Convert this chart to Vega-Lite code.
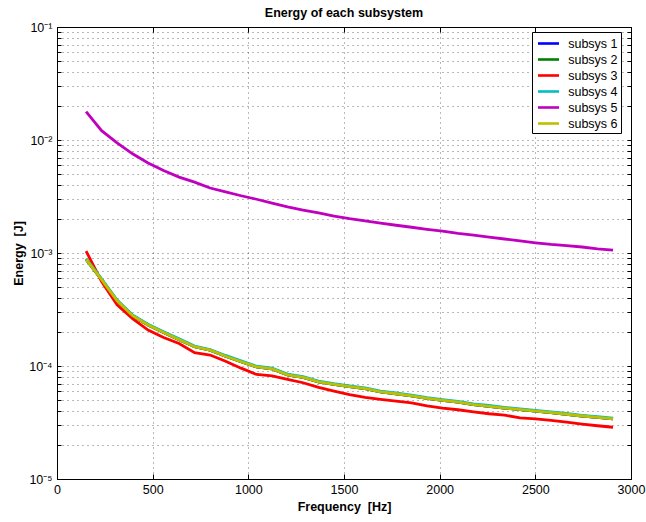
{
"$schema": "https://vega.github.io/schema/vega-lite/v6.json",
"width": 574, "height": 452,
"autosize": {"type": "none"},
"padding": {"left": 57, "top": 27, "right": 15, "bottom": 43},
"background": "white",
"title": {"text": "Energy of each subsystem", "font": "Liberation Sans", "fontSize": 12.5, "fontWeight": "bold", "color": "black", "offset": 2},
"data": {"values": [
{"f":152,"s":"subsys 1","E":8.79e-4},{"f":233,"s":"subsys 1","E":5.82e-4},{"f":314,"s":"subsys 1","E":3.77e-4},{"f":395,"s":"subsys 1","E":2.79e-4},{"f":476,"s":"subsys 1","E":2.31e-4},{"f":557,"s":"subsys 1","E":1.98e-4},{"f":638,"s":"subsys 1","E":1.71e-4},{"f":719,"s":"subsys 1","E":1.48e-4},{"f":800,"s":"subsys 1","E":1.38e-4},{"f":881,"s":"subsys 1","E":1.22e-4},{"f":962,"s":"subsys 1","E":1.09e-4},{"f":1043,"s":"subsys 1","E":9.8e-5},{"f":1124,"s":"subsys 1","E":9.42e-5},{"f":1205,"s":"subsys 1","E":8.34e-5},{"f":1286,"s":"subsys 1","E":7.94e-5},{"f":1367,"s":"subsys 1","E":7.24e-5},{"f":1448,"s":"subsys 1","E":6.87e-5},{"f":1529,"s":"subsys 1","E":6.56e-5},{"f":1610,"s":"subsys 1","E":6.30e-5},{"f":1691,"s":"subsys 1","E":5.91e-5},{"f":1772,"s":"subsys 1","E":5.68e-5},{"f":1853,"s":"subsys 1","E":5.43e-5},{"f":1934,"s":"subsys 1","E":5.17e-5},{"f":2015,"s":"subsys 1","E":4.97e-5},{"f":2096,"s":"subsys 1","E":4.78e-5},{"f":2177,"s":"subsys 1","E":4.55e-5},{"f":2258,"s":"subsys 1","E":4.40e-5},{"f":2339,"s":"subsys 1","E":4.24e-5},{"f":2420,"s":"subsys 1","E":4.11e-5},{"f":2501,"s":"subsys 1","E":3.98e-5},{"f":2582,"s":"subsys 1","E":3.86e-5},{"f":2663,"s":"subsys 1","E":3.74e-5},{"f":2744,"s":"subsys 1","E":3.61e-5},{"f":2825,"s":"subsys 1","E":3.51e-5},{"f":2906,"s":"subsys 1","E":3.40e-5},
{"f":152,"s":"subsys 2","E":8.79e-4},{"f":233,"s":"subsys 2","E":5.82e-4},{"f":314,"s":"subsys 2","E":3.77e-4},{"f":395,"s":"subsys 2","E":2.79e-4},{"f":476,"s":"subsys 2","E":2.31e-4},{"f":557,"s":"subsys 2","E":1.98e-4},{"f":638,"s":"subsys 2","E":1.71e-4},{"f":719,"s":"subsys 2","E":1.48e-4},{"f":800,"s":"subsys 2","E":1.38e-4},{"f":881,"s":"subsys 2","E":1.22e-4},{"f":962,"s":"subsys 2","E":1.09e-4},{"f":1043,"s":"subsys 2","E":9.8e-5},{"f":1124,"s":"subsys 2","E":9.42e-5},{"f":1205,"s":"subsys 2","E":8.34e-5},{"f":1286,"s":"subsys 2","E":7.94e-5},{"f":1367,"s":"subsys 2","E":7.24e-5},{"f":1448,"s":"subsys 2","E":6.87e-5},{"f":1529,"s":"subsys 2","E":6.56e-5},{"f":1610,"s":"subsys 2","E":6.30e-5},{"f":1691,"s":"subsys 2","E":5.91e-5},{"f":1772,"s":"subsys 2","E":5.68e-5},{"f":1853,"s":"subsys 2","E":5.43e-5},{"f":1934,"s":"subsys 2","E":5.17e-5},{"f":2015,"s":"subsys 2","E":4.97e-5},{"f":2096,"s":"subsys 2","E":4.78e-5},{"f":2177,"s":"subsys 2","E":4.55e-5},{"f":2258,"s":"subsys 2","E":4.40e-5},{"f":2339,"s":"subsys 2","E":4.24e-5},{"f":2420,"s":"subsys 2","E":4.11e-5},{"f":2501,"s":"subsys 2","E":3.98e-5},{"f":2582,"s":"subsys 2","E":3.86e-5},{"f":2663,"s":"subsys 2","E":3.74e-5},{"f":2744,"s":"subsys 2","E":3.61e-5},{"f":2825,"s":"subsys 2","E":3.51e-5},{"f":2906,"s":"subsys 2","E":3.40e-5},
{"f":152,"s":"subsys 3","E":1.04e-3},{"f":233,"s":"subsys 3","E":5.60e-4},{"f":314,"s":"subsys 3","E":3.48e-4},{"f":395,"s":"subsys 3","E":2.62e-4},{"f":476,"s":"subsys 3","E":2.08e-4},{"f":557,"s":"subsys 3","E":1.79e-4},{"f":638,"s":"subsys 3","E":1.58e-4},{"f":719,"s":"subsys 3","E":1.31e-4},{"f":800,"s":"subsys 3","E":1.25e-4},{"f":881,"s":"subsys 3","E":1.10e-4},{"f":962,"s":"subsys 3","E":9.57e-5},{"f":1043,"s":"subsys 3","E":8.41e-5},{"f":1124,"s":"subsys 3","E":8.17e-5},{"f":1205,"s":"subsys 3","E":7.60e-5},{"f":1286,"s":"subsys 3","E":7.11e-5},{"f":1367,"s":"subsys 3","E":6.47e-5},{"f":1448,"s":"subsys 3","E":6.00e-5},{"f":1529,"s":"subsys 3","E":5.58e-5},{"f":1610,"s":"subsys 3","E":5.27e-5},{"f":1691,"s":"subsys 3","E":5.07e-5},{"f":1772,"s":"subsys 3","E":4.89e-5},{"f":1853,"s":"subsys 3","E":4.72e-5},{"f":1934,"s":"subsys 3","E":4.43e-5},{"f":2015,"s":"subsys 3","E":4.23e-5},{"f":2096,"s":"subsys 3","E":4.10e-5},{"f":2177,"s":"subsys 3","E":3.93e-5},{"f":2258,"s":"subsys 3","E":3.78e-5},{"f":2339,"s":"subsys 3","E":3.67e-5},{"f":2420,"s":"subsys 3","E":3.48e-5},{"f":2501,"s":"subsys 3","E":3.41e-5},{"f":2582,"s":"subsys 3","E":3.30e-5},{"f":2663,"s":"subsys 3","E":3.18e-5},{"f":2744,"s":"subsys 3","E":3.06e-5},{"f":2825,"s":"subsys 3","E":2.96e-5},{"f":2906,"s":"subsys 3","E":2.87e-5},
{"f":152,"s":"subsys 4","E":8.92e-4},{"f":233,"s":"subsys 4","E":5.91e-4},{"f":314,"s":"subsys 4","E":3.83e-4},{"f":395,"s":"subsys 4","E":2.83e-4},{"f":476,"s":"subsys 4","E":2.34e-4},{"f":557,"s":"subsys 4","E":2.01e-4},{"f":638,"s":"subsys 4","E":1.74e-4},{"f":719,"s":"subsys 4","E":1.50e-4},{"f":800,"s":"subsys 4","E":1.40e-4},{"f":881,"s":"subsys 4","E":1.24e-4},{"f":962,"s":"subsys 4","E":1.11e-4},{"f":1043,"s":"subsys 4","E":9.95e-5},{"f":1124,"s":"subsys 4","E":9.56e-5},{"f":1205,"s":"subsys 4","E":8.47e-5},{"f":1286,"s":"subsys 4","E":8.06e-5},{"f":1367,"s":"subsys 4","E":7.35e-5},{"f":1448,"s":"subsys 4","E":6.97e-5},{"f":1529,"s":"subsys 4","E":6.66e-5},{"f":1610,"s":"subsys 4","E":6.39e-5},{"f":1691,"s":"subsys 4","E":6.00e-5},{"f":1772,"s":"subsys 4","E":5.77e-5},{"f":1853,"s":"subsys 4","E":5.51e-5},{"f":1934,"s":"subsys 4","E":5.25e-5},{"f":2015,"s":"subsys 4","E":5.04e-5},{"f":2096,"s":"subsys 4","E":4.85e-5},{"f":2177,"s":"subsys 4","E":4.62e-5},{"f":2258,"s":"subsys 4","E":4.47e-5},{"f":2339,"s":"subsys 4","E":4.30e-5},{"f":2420,"s":"subsys 4","E":4.17e-5},{"f":2501,"s":"subsys 4","E":4.04e-5},{"f":2582,"s":"subsys 4","E":3.92e-5},{"f":2663,"s":"subsys 4","E":3.80e-5},{"f":2744,"s":"subsys 4","E":3.66e-5},{"f":2825,"s":"subsys 4","E":3.56e-5},{"f":2906,"s":"subsys 4","E":3.45e-5},
{"f":152,"s":"subsys 5","E":1.78e-2},{"f":233,"s":"subsys 5","E":1.21e-2},{"f":314,"s":"subsys 5","E":9.42e-3},{"f":395,"s":"subsys 5","E":7.55e-3},{"f":476,"s":"subsys 5","E":6.25e-3},{"f":557,"s":"subsys 5","E":5.37e-3},{"f":638,"s":"subsys 5","E":4.69e-3},{"f":719,"s":"subsys 5","E":4.24e-3},{"f":800,"s":"subsys 5","E":3.76e-3},{"f":881,"s":"subsys 5","E":3.47e-3},{"f":962,"s":"subsys 5","E":3.21e-3},{"f":1043,"s":"subsys 5","E":2.99e-3},{"f":1124,"s":"subsys 5","E":2.76e-3},{"f":1205,"s":"subsys 5","E":2.56e-3},{"f":1286,"s":"subsys 5","E":2.40e-3},{"f":1367,"s":"subsys 5","E":2.26e-3},{"f":1448,"s":"subsys 5","E":2.12e-3},{"f":1529,"s":"subsys 5","E":2.01e-3},{"f":1610,"s":"subsys 5","E":1.92e-3},{"f":1691,"s":"subsys 5","E":1.84e-3},{"f":1772,"s":"subsys 5","E":1.76e-3},{"f":1853,"s":"subsys 5","E":1.69e-3},{"f":1934,"s":"subsys 5","E":1.62e-3},{"f":2015,"s":"subsys 5","E":1.56e-3},{"f":2096,"s":"subsys 5","E":1.49e-3},{"f":2177,"s":"subsys 5","E":1.44e-3},{"f":2258,"s":"subsys 5","E":1.38e-3},{"f":2339,"s":"subsys 5","E":1.33e-3},{"f":2420,"s":"subsys 5","E":1.28e-3},{"f":2501,"s":"subsys 5","E":1.23e-3},{"f":2582,"s":"subsys 5","E":1.19e-3},{"f":2663,"s":"subsys 5","E":1.16e-3},{"f":2744,"s":"subsys 5","E":1.13e-3},{"f":2825,"s":"subsys 5","E":1.09e-3},{"f":2906,"s":"subsys 5","E":1.06e-3},
{"f":152,"s":"subsys 6","E":8.79e-4},{"f":233,"s":"subsys 6","E":5.82e-4},{"f":314,"s":"subsys 6","E":3.77e-4},{"f":395,"s":"subsys 6","E":2.79e-4},{"f":476,"s":"subsys 6","E":2.31e-4},{"f":557,"s":"subsys 6","E":1.98e-4},{"f":638,"s":"subsys 6","E":1.71e-4},{"f":719,"s":"subsys 6","E":1.48e-4},{"f":800,"s":"subsys 6","E":1.38e-4},{"f":881,"s":"subsys 6","E":1.22e-4},{"f":962,"s":"subsys 6","E":1.09e-4},{"f":1043,"s":"subsys 6","E":9.8e-5},{"f":1124,"s":"subsys 6","E":9.42e-5},{"f":1205,"s":"subsys 6","E":8.34e-5},{"f":1286,"s":"subsys 6","E":7.94e-5},{"f":1367,"s":"subsys 6","E":7.24e-5},{"f":1448,"s":"subsys 6","E":6.87e-5},{"f":1529,"s":"subsys 6","E":6.56e-5},{"f":1610,"s":"subsys 6","E":6.30e-5},{"f":1691,"s":"subsys 6","E":5.91e-5},{"f":1772,"s":"subsys 6","E":5.68e-5},{"f":1853,"s":"subsys 6","E":5.43e-5},{"f":1934,"s":"subsys 6","E":5.17e-5},{"f":2015,"s":"subsys 6","E":4.97e-5},{"f":2096,"s":"subsys 6","E":4.78e-5},{"f":2177,"s":"subsys 6","E":4.55e-5},{"f":2258,"s":"subsys 6","E":4.40e-5},{"f":2339,"s":"subsys 6","E":4.24e-5},{"f":2420,"s":"subsys 6","E":4.11e-5},{"f":2501,"s":"subsys 6","E":3.98e-5},{"f":2582,"s":"subsys 6","E":3.86e-5},{"f":2663,"s":"subsys 6","E":3.74e-5},{"f":2744,"s":"subsys 6","E":3.61e-5},{"f":2825,"s":"subsys 6","E":3.51e-5},{"f":2906,"s":"subsys 6","E":3.40e-5}
]},
"layer": [
 {"mark": {"type": "line", "strokeWidth": 2.8, "clip": true},
  "encoding": {
   "x": {"field": "f", "type": "quantitative", "title": "Frequency\u00a0 [Hz]",
     "scale": {"domain": [0, 3000], "nice": false, "zero": false},
     "axis": {"orient": "bottom", "values": [0,500,1000,1500,2000,2500,3000], "format": "d", "grid": true, "labelFlush": false, "labelOverlap": false, "tickSize": -5, "labelPadding": 9, "titlePadding": 5}},
   "y": {"field": "E", "type": "quantitative", "title": "Energy\u00a0 [J]",
     "scale": {"type": "log", "domain": [0.00001, 0.1], "nice": false},
     "axis": {"orient": "left", "values": [0.00001,0.00002,0.00003,0.00004,0.00005,0.00006,0.00007,0.00008,0.00009,0.0001,0.0002,0.0003,0.0004,0.0005,0.0006,0.0007,0.0008,0.0009,0.001,0.002,0.003,0.004,0.005,0.006,0.007,0.008,0.009,0.01,0.02,0.03,0.04,0.05,0.06,0.07,0.08,0.09,0.1],
       "grid": true, "labelOverlap": false, "labelFlush": false, "tickSize": -4, "labelPadding": 9, "titlePadding": 3,
       "labelExpr": "abs(log(datum.value)/LN10 - round(log(datum.value)/LN10)) < 0.001 ? ['10⁻⁵','10⁻⁴','10⁻³','10⁻²','10⁻¹'][round(log(datum.value)/LN10)+5] : ''"}},
   "color": {"field": "s", "type": "nominal",
     "scale": {"domain": ["subsys 1","subsys 2","subsys 3","subsys 4","subsys 5","subsys 6"], "range": ["#0000FF","#008000","#FF0000","#00BFBF","#BF00BF","#BFBF00"]},
     "legend": {"orient": "none", "legendX": 475, "legendY": 5, "title": null, "symbolType": "M-0.733,0H2.067", "symbolSize": 225, "symbolStrokeWidth": 2.6, "symbolFillColor": "transparent", "labelFont": "Liberation Sans", "labelFontSize": 12.5, "labelColor": "black", "strokeColor": "black", "fillColor": "white", "padding": 2.5, "rowPadding": -0.7, "labelOffset": 15.7}}
  }},
 {"mark": {"type": "line", "opacity": 0},
  "encoding": {
   "x": {"field": "f", "type": "quantitative",
     "axis": {"orient": "top", "values": [0,500,1000,1500,2000,2500,3000], "labels": false, "grid": false, "title": null, "tickSize": -5, "domain": false}},
   "y": {"field": "E", "type": "quantitative",
     "axis": {"orient": "right", "values": [0.00001,0.00002,0.00003,0.00004,0.00005,0.00006,0.00007,0.00008,0.00009,0.0001,0.0002,0.0003,0.0004,0.0005,0.0006,0.0007,0.0008,0.0009,0.001,0.002,0.003,0.004,0.005,0.006,0.007,0.008,0.009,0.01,0.02,0.03,0.04,0.05,0.06,0.07,0.08,0.09,0.1], "labels": false, "grid": false, "title": null, "tickSize": -4, "domain": false}},
   "detail": {"field": "s"}
  }}
],
"resolve": {"axis": {"x": "independent", "y": "independent"}},
"config": {
 "view": {"stroke": "black", "strokeWidth": 1},
 "axis": {"domainColor": "black", "domainWidth": 1, "tickColor": "black", "tickWidth": 1,
   "gridColor": "#000000", "gridOpacity": 0.55, "gridDash": [1, 4], "gridWidth": 1,
   "labelFont": "Liberation Sans", "labelFontSize": 12.5, "labelColor": "black",
   "titleFont": "Liberation Sans", "titleFontSize": 12.5, "titleFontWeight": "bold", "titleColor": "black"}
}
}
